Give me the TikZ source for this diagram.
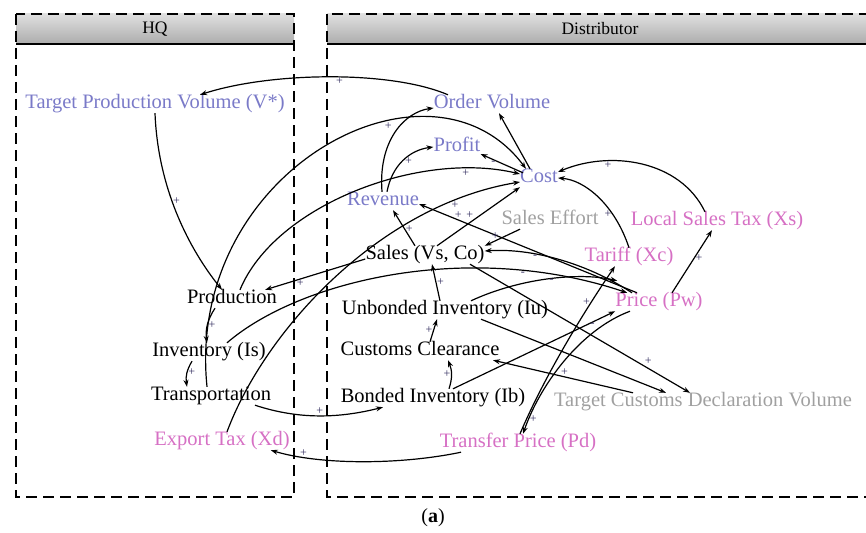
\documentclass[tikz,border=0pt]{standalone}
\usepackage{fontspec}
\setmainfont{Liberation Serif}
\usetikzlibrary{arrows.meta, positioning}
\definecolor{varblue}{RGB}{122, 122, 200}
\definecolor{varpink}{RGB}{214, 112, 196}
\definecolor{vargray}{RGB}{160, 160, 160}
\definecolor{signcol}{RGB}{50, 45, 95}

\begin{document}
\begin{tikzpicture}[x=1pt, y=-1pt,
        link/.style={-{Stealth[length=7pt, width=5pt]}, line width=1.2pt},
        cvar/.style={inner sep=0pt, text height=13.5pt, text depth=4.5pt,
                     font=\fontsize{20.5}{24}\selectfont},
        sgn/.style={inner sep=0.5pt, font=\fontsize{12}{12}\selectfont, text=signcol},
        lane/.style={dash pattern=on 11pt off 6pt, line width=2.6pt},
        head/.style={top color=gray!25, bottom color=gray!65},
        headtext/.style={font=\fontsize{17.5}{20}\selectfont}
      ]
        \useasboundingbox (0,0) rectangle (866,532);

        \fill[head] (16,14) rectangle (294,44);
        \fill[head] (327,14) rectangle (872,44);
        \draw[lane] (16,14) rectangle (294,497);
        \draw[lane] (327,14) rectangle (872,497);
        \draw[line width=2pt] (16,44) -- (294,44);
        \draw[line width=2pt] (327,44) -- (872,44);
        \node[headtext] (hqhead) at (155,29) {HQ};
        \node[headtext] (disthead) at (600,29) {Distributor};

        \node[cvar, text=varblue] (tpv) at (155,104) {Target Production Volume (V*)};
        \node[cvar, text=varblue] (order) at (492,104) {Order Volume};
        \node[cvar, text=varblue] (profit) at (457,147) {Profit};
        \node[cvar, text=varblue] (cost) at (539,178) {Cost};
        \node[cvar, text=varblue] (revenue) at (383,201) {Revenue};
        \node[cvar, text=vargray] (effort) at (550,220) {Sales Effort};
        \node[cvar, text=varpink] (lst) at (717,221) {Local Sales Tax (Xs)};
        \node[cvar] (sales) at (425,255) {Sales (Vs, Co)};
        \node[cvar, text=varpink] (tariff) at (629,257) {Tariff (Xc)};
        \node[cvar] (prod) at (232,299) {Production};
        \node[cvar] (iu) at (445,310) {Unbonded Inventory (Iu)};
        \node[cvar, text=varpink] (pw) at (659,302) {Price (Pw)};
        \node[cvar] (is) at (209,352) {Inventory (Is)};
        \node[cvar] (cc) at (420,351) {Customs Clearance};
        \node[cvar] (trans) at (211,396) {Transportation};
        \node[cvar] (ib) at (433,398) {Bonded Inventory (Ib)};
        \node[cvar, text=vargray] (tcdv) at (703,402) {Target Customs Declaration Volume};
        \node[cvar, text=varpink] (xd) at (222,441) {Export Tax (Xd)};
        \node[cvar, text=varpink] (pd) at (518,443) {Transfer Price (Pd)};

        \draw[link] ([xshift=-44]order.north) .. controls (390,70) and (270,72) .. node[sgn, pos=.46, below] {+} ([xshift=45]tpv.north);
        \draw[link] (tpv.south) .. controls (158,190) and (190,250) .. node[sgn, pos=.42, right] {+} ([xshift=-10]prod.north);
        \draw[link] ([xshift=-4]trans.north) .. controls (185,170) and (430,40) .. node[sgn, pos=.65, below] {+} ([xshift=6]cost.north west);
        \draw[link] ([xshift=8]prod.north) .. controls (275,205) and (420,150) .. node[sgn, pos=.83, below] {+} ([yshift=4]cost.west);
        \draw[link] ([xshift=5]xd.north) .. controls (265,330) and (380,205) .. node[sgn, pos=.84, below] {+} ([yshift=-4]cost.west);
        \draw[link] ([xshift=12]sales.north) -- node[sgn, pos=.45, above left] {+} (cost.south west);
        \draw[link] (tariff.north) .. controls (615,205) and (585,180) .. node[sgn, pos=.3, left] {+} (cost.east);
        \draw[link] ([xshift=-12]lst.north) .. controls (680,160) and (610,150) .. node[sgn, pos=.7, below] {+} ([yshift=6]cost.east);
        \draw[link] ([xshift=-9]cost.north) -- ([xshift=7]order.south);
        \draw[link] ([shift={(3,4)}]cost.north west) -- node[sgn, pos=.7, below] {-} ([yshift=-7]profit.east);
        \draw[link] ([xshift=4]revenue.north) .. controls (392,165) and (410,150) .. node[sgn, pos=.6, below] {+} (profit.west);
        \draw[link] ([xshift=-1]revenue.north) .. controls (378,140) and (405,112) .. ([yshift=-4]order.west);
        \draw[link] ([xshift=-10]sales.north) -- node[sgn, pos=.47, right] {+} ([xshift=10]revenue.south);
        \draw[link] ([xshift=-22]pw.north) -- node[sgn, pos=.82, above] {+} ([yshift=-3]revenue.east);
        \draw[link] ([xshift=-30]effort.south) -- node[sgn, pos=.7, above] {+} (sales.north east);
        \draw[link] ([xshift=-27]pw.north) .. controls (585,262) and (530,248) .. node[sgn, pos=.65, below] {-} ([yshift=4]sales.east);
        \draw[link] ([xshift=18]is.north) .. controls (300,280) and (470,240) .. node[sgn, pos=.78, below] {-} ([xshift=12]pw.north west);
        \draw[link] ([xshift=26]iu.north) .. controls (520,278) and (580,272) .. node[sgn, pos=.52, below] {-} ([shift={(2,-12)}]pw.north west);
        \draw[link] ([xshift=45]sales.south) -- node[sgn, pos=.79, above right] {+} ([xshift=-13]tcdv.north);
        \draw[link] ([xshift=36]iu.south) -- ([xshift=-37]tcdv.north);
        \draw[link] ([xshift=-70]tcdv.north) -- node[sgn, pos=.49, above] {+} ([xshift=73]cc.south);
        \draw[link] ([xshift=20]ib.north) -- node[sgn, pos=.86, below] {-} (pw.south west);
        \draw[link] ([xshift=2]pd.north) .. controls (545,375) and (585,310) .. node[sgn, pos=.75, left] {+} ([xshift=-14]tariff.south);
        \draw[link] ([xshift=-29]pw.south) .. controls (580,330) and (540,385) .. node[sgn, pos=.9, right] {+} ([xshift=5]pd.north);
        \draw[link] ([xshift=-57]pd.south) .. controls (400,465) and (320,465) .. node[sgn, pos=.8, above] {+} ([xshift=-19]xd.south east);
        \draw[link] ([xshift=44]trans.south) .. controls (300,420) and (340,418) .. node[sgn, pos=.5, above] {+} ([xshift=-50]ib.south);
        \draw[link] ([xshift=-17]prod.south) to[bend right=20] node[sgn, pos=.5, right] {+} ([xshift=-2]is.north);
        \draw[link] ([xshift=-17]is.south) to[bend right=20] node[sgn, pos=.45, right] {+} ([xshift=-24]trans.north);
        \draw[link] ([xshift=16]ib.north) to[bend right=20] node[sgn, pos=.5, left] {+} ([xshift=28]cc.south);
        \draw[link] ([xshift=10]cc.north) -- node[sgn, pos=.5, left] {+} ([xshift=-8]iu.south);
        \draw[link] ([xshift=-5]iu.north) -- node[sgn, pos=.5, right] {+} ([xshift=7]sales.south);
        \draw[link] ([yshift=-4]sales.west) -- node[sgn, pos=.65, below] {+} ([xshift=-12]prod.north east);
        \draw[link] ([xshift=13]pw.north) -- node[sgn, pos=.56, right] {+} ([xshift=-5]lst.south);

        \node[font=\fontsize{20}{24}\selectfont] (caption) at (433,518) {(\textbf{a})};
      \end{tikzpicture}
\end{document}
